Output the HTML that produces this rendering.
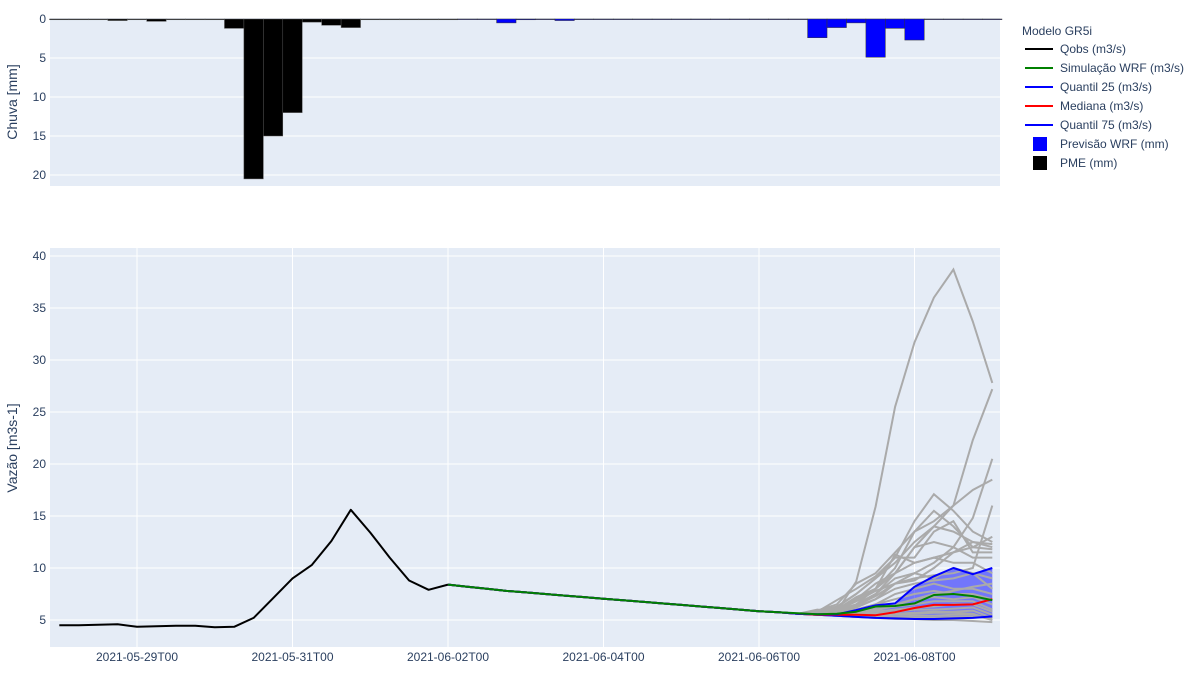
<!DOCTYPE html>
<html><head><meta charset="utf-8">
<style>
body{margin:0;background:#fff;font-family:"Liberation Sans","DejaVu Sans",sans-serif;}
svg text{font-family:"Liberation Sans","DejaVu Sans",sans-serif;fill:#2a3f5f;}
</style></head>
<body>
<svg id="chart" width="1200" height="675" viewBox="0 0 1200 675" xmlns="http://www.w3.org/2000/svg">
<rect x="50" y="18" width="950" height="168" fill="#e5ecf6"/>
<rect x="50" y="248" width="950" height="399" fill="#e5ecf6"/>
<g id="rainGrid"></g><g id="flowGrid"></g>
<g id="rainBars"></g>
<g id="flowSeries"></g>
<g id="axes"></g>
<text x="17" y="102" font-size="14" text-anchor="middle" transform="rotate(-90 17 102)">Chuva [mm]</text>
<text x="17" y="448" font-size="14" text-anchor="middle" transform="rotate(-90 17 448)">Vazão [m3s-1]</text>
<g id="legend">
<text x="1022" y="35" font-size="12">Modelo GR5i</text>
</g>
</svg>
<script>
const NS="http://www.w3.org/2000/svg";
// ---- data (index i = 6-hour steps from 2021-05-28T00) ----
const xTickLabels=["2021-05-29T00","2021-05-31T00","2021-06-02T00","2021-06-04T00","2021-06-06T00","2021-06-08T00"];
const xTickHours=[24,72,120,168,216,264];
const rainTicks=[0,5,10,15,20];
const flowTicks=[5,10,15,20,25,30,35,40];
const pme=[0.1,0.1,0.1,0.2,0.1,0.3,0.1,0.1,0.1,1.2,20.5,15,12,0.4,0.8,1.1,0.1,0.1,0.1,0.1,0.1];
const wrfRain=[0.05,0.05,0.5,0.1,0.05,0.2,0.05,0.05,0.05,0.05,0.05,0.05,0.05,0.05,0.05,0.05,0.05,0.05,2.4,1.1,0.5,4.9,1.2,2.7,0.05,0.05,0.05,0.05];
const wrfRainStart=21;
const qobs=[4.5,4.5,4.55,4.6,4.35,4.4,4.45,4.45,4.3,4.35,5.2,7.1,9.0,10.3,12.6,15.6,13.4,11.0,8.8,7.9,8.4];
const simStart=20;
const simWrf=[8.4,8.2,8.0,7.8,7.65,7.5,7.35,7.2,7.05,6.9,6.75,6.6,6.45,6.3,6.15,6.0,5.85,5.75,5.65,5.55,5.6,5.8,6.3,6.35,6.6,7.4,7.5,7.3,6.9];
// shared forecast recession (i=20..37), common to all ensemble/quantile series
const sharedPrefix=[8.4,8.2,8.0,7.8,7.65,7.5,7.35,7.2,7.05,6.9,6.75,6.6,6.45,6.3,6.15,6.0,5.85,5.75];
const ensStart=38;
const q25=[5.6,5.5,5.4,5.3,5.2,5.15,5.1,5.1,5.15,5.2,5.35];
const median=[5.6,5.5,5.5,5.5,5.45,5.75,6.15,6.45,6.45,6.5,7.0];
const q75=[5.6,5.55,5.55,5.95,6.4,6.6,8.2,9.2,10.0,9.4,10.0];
const members=[
[5.6,6.0,5.8,8.7,15.9,25.5,31.7,36.0,38.7,33.7,27.8],
[5.6,5.7,5.9,6.5,7.5,9.5,12.0,14.0,16.0,22.3,27.2],
[5.6,5.6,5.8,6.2,7.0,8.5,9.5,10.5,12.0,14.8,20.5],
[5.6,5.7,6.0,7.0,8.0,10.0,13.5,14.5,16.0,17.5,18.5],
[5.6,5.8,6.3,7.5,9.0,11.0,14.5,17.1,15.5,13.5,12.5],
[5.6,5.6,5.9,6.4,7.3,8.5,9.0,9.3,9.5,10.0,16.0],
[5.6,5.9,6.5,8.5,9.5,11.5,13.5,15.5,14.0,12.0,13.0],
[5.6,5.7,6.2,7.5,9.0,10.5,12.5,14.0,13.5,12.5,12.0],
[5.6,5.8,6.9,8.0,9.2,11.0,11.0,13.5,14.5,11.5,11.5],
[5.6,5.7,6.1,7.0,8.5,9.5,12.0,12.5,12.0,11.0,11.0],
[5.6,5.6,6.0,7.2,8.0,11.3,10.5,11.0,10.5,10.5,9.5],
[5.6,5.6,5.9,6.5,7.5,9.0,9.5,9.0,10.0,9.5,9.0],
[5.6,5.6,5.8,6.3,7.0,8.0,8.5,8.8,9.0,9.5,8.0],
[5.6,5.6,5.7,6.0,6.5,7.5,8.0,8.5,8.0,8.0,7.5],
[5.6,5.6,5.7,6.0,6.5,7.0,7.5,7.8,7.5,7.5,7.0],
[5.6,5.5,5.6,5.8,6.2,6.5,7.0,7.2,7.0,7.2,6.5],
[5.6,5.5,5.5,5.7,6.0,6.3,6.5,6.8,6.8,6.8,6.0],
[5.6,5.5,5.5,5.6,5.8,6.0,6.2,6.3,6.5,6.5,5.8],
[5.6,5.5,5.5,5.5,5.6,5.8,6.0,6.0,6.1,6.2,5.5],
[5.6,5.5,5.4,5.4,5.5,5.6,5.7,5.8,5.8,5.9,5.2],
[5.6,5.5,5.4,5.3,5.3,5.3,5.4,5.4,5.5,5.5,5.0],
[5.6,5.5,5.4,5.3,5.2,5.1,5.1,5.0,5.0,4.9,4.8],
[5.6,5.5,5.4,5.3,5.2,5.2,5.2,5.2,5.3,5.3,5.2],
[5.6,5.6,5.8,6.5,8.0,9.5,10.5,11.0,11.5,12.0,11.8],
[5.6,5.6,5.9,6.8,7.8,8.5,8.8,10.0,11.5,12.5,12.3],
[5.6,5.5,5.5,5.6,5.9,6.4,7.0,7.5,7.8,8.2,8.5],
[5.6,5.5,5.4,5.4,5.4,5.5,5.6,5.7,5.7,5.6,5.0]
];
// ---- scales (hours from 2021-05-28T00) ----
function xH(h){return 137+(h-24)*155.5/48;}
function xI(i){return xH(i*6);}
function yR(v){return 19+v*7.8;}
function yF(v){return 620-(v-5)*10.4;}
function mk(tag,attrs,parent){const e=document.createElementNS(NS,tag);for(const k in attrs)e.setAttribute(k,attrs[k]);parent.appendChild(e);return e;}
const gR=document.getElementById('rainGrid'),gF=document.getElementById('flowGrid'),gB=document.getElementById('rainBars'),gS=document.getElementById('flowSeries'),gA=document.getElementById('axes'),gL=document.getElementById('legend');
rainTicks.forEach(v=>{
  const l=mk('line',{x1:50,x2:1000,y1:yR(v),y2:yR(v),stroke:'#fff','stroke-width':1},gR);
  
  
  const t=mk('text',{x:46,y:yR(v)+4,'font-size':12,'text-anchor':'end'},gA);t.textContent=v;
  
  
});
flowTicks.forEach(v=>{
  const l=mk('line',{x1:50,x2:1000,y1:yF(v),y2:yF(v),stroke:'#fff','stroke-width':1},gF);
  
  
  const t=mk('text',{x:46,y:yF(v)+4,'font-size':12,'text-anchor':'end'},gA);t.textContent=v;
  
  
});
xTickHours.forEach((h,k)=>{
  const l=mk('line',{x1:xH(h),x2:xH(h),y1:248,y2:647,stroke:'#fff','stroke-width':1},gF);
  
  
  const t=mk('text',{x:xH(h),y:661,'font-size':12,'text-anchor':'middle'},gA);t.textContent=xTickLabels[k];
  
  
});
const bw=155.5/48*6;
pme.forEach((v,i)=>{
  const r=mk('rect',{x:xI(i)-bw/2,y:yR(0),width:bw,height:Math.max(v*7.8,0.6),fill:'#000',stroke:'#555','stroke-width':0.5},gB);
  
  
});
wrfRain.forEach((v,k)=>{
  const i=k+wrfRainStart;
  const r=mk('rect',{x:xI(i)-bw/2,y:yR(0),width:bw,height:Math.max(v*7.8,0.6),fill:'#0000ff',stroke:'#333','stroke-width':0.5},gB);
  
  
});
function pts(arr,start){return arr.map((v,k)=>xI(k+start).toFixed(1)+','+yF(v).toFixed(1)).join(' ');}
function full(arr){return sharedPrefix.concat(arr);}
const band=pts(q75,ensStart)+' '+q25.map((v,k)=>[xI(k+ensStart),yF(v)]).reverse().map(p=>p[0].toFixed(1)+','+p[1].toFixed(1)).join(' ');
const bp=mk('polygon',{points:band,fill:'rgba(0,0,255,0.5)'},gS);


members.forEach(m=>{
  const p=mk('polyline',{points:pts(full(m),simStart),fill:'none',stroke:'#aaaaaa','stroke-width':2},gS);
  
  
});
function line(arr,start,color,name){const p=mk('polyline',{points:pts(arr,start),fill:'none',stroke:color,'stroke-width':2,'stroke-linejoin':'round'},gS);
  
  }
line(qobs,0,'#000','qobs-line');
line(full(q25),simStart,'blue','quantile-25-line');
line(full(median),simStart,'red','median-line');
line(full(q75),simStart,'blue','quantile-75-line');
line(simWrf,simStart,'green','simulation-wrf-line');
const leg=[['Qobs (m3/s)','#000','line'],['Simulação WRF (m3/s)','green','line'],['Quantil 25 (m3/s)','blue','line'],['Mediana (m3/s)','red','line'],['Quantil 75 (m3/s)','blue','line'],['Previsão WRF (mm)','#0000ff','sq'],['PME (mm)','#000','sq']];
leg.forEach((e,k)=>{
  const y=49+k*19;
  const g=mk('g',{},gL);
  
  
  if(e[2]==='line')mk('line',{x1:1025,x2:1053,y1:y,y2:y,stroke:e[1],'stroke-width':2},g);
  else mk('rect',{x:1033,y:y-7,width:14,height:14,fill:e[1]},g);
  const t=mk('text',{x:1060,y:y+4,'font-size':12},g);t.textContent=e[0];
});
</script>
</body></html>
